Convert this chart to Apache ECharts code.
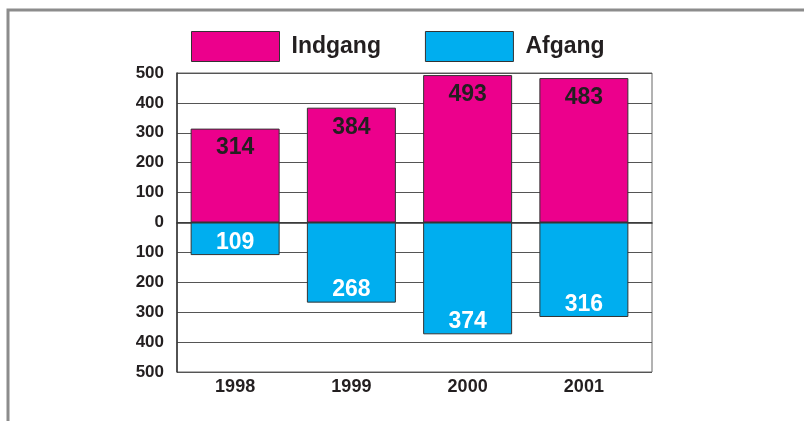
<!DOCTYPE html>
<html>
<head>
<meta charset="utf-8">
<script src="https://cdn.jsdelivr.net/npm/echarts@6/dist/echarts.min.js"></script>
<style>
  html, body { margin: 0; padding: 0; background: #fff; }
  #chart { width: 804px; height: 421px; }
</style>
</head>
<body>
<div id="chart"></div>
<script>
// data
const years = ['1998', '1999', '2000', '2001'];
const indgang = [314, 384, 493, 483];
const afgang = [109, 268, 374, 316];

const font = 'Liberation Sans, Arial, Helvetica, sans-serif';
const ink = '#231f20';

const chart = echarts.init(document.getElementById('chart'));

const option = {
  animation: false,
  textStyle: { fontFamily: font },
  graphic: [
    {
      // grey frame round the figure (top and left)
      type: 'polyline',
      shape: { points: [[8, 421], [8, 10], [804, 10]] },
      style: { stroke: '#8c8c8c', lineWidth: 3, fill: null }
    }
  ],
  legend: {
    left: 191,
    top: 31,
    padding: 0,
    itemWidth: 88,
    itemHeight: 30,
    itemGap: 44,
    icon: 'rect',
    itemStyle: { borderColor: '#333', borderWidth: 1 },
    textStyle: { fontFamily: font, fontSize: 23, fontWeight: 'bold', color: ink, padding: [0, 0, 0, 7] },
    data: ['Indgang', 'Afgang']
  },
  grid: [
    // frame grid: grid lines and axes
    { left: 177, right: 152, top: 73, bottom: 49, show: true, borderColor: '#666', borderWidth: 1 },
    // bar grid
    { left: 177, right: 162, top: 73, bottom: 49 }
  ],
  xAxis: [
    {
      gridIndex: 0, type: 'value', min: 0, max: 1,
      axisLine: { show: true, lineStyle: { color: '#333', width: 1.5 } },
      axisTick: { show: false }, axisLabel: { show: false }, splitLine: { show: false }
    },
    {
      gridIndex: 1, type: 'category', data: years,
      axisLine: { show: false }, axisTick: { show: false },
      axisLabel: { fontFamily: font, fontSize: 18, fontWeight: 'bold', color: ink, margin: 6 }
    }
  ],
  yAxis: [
    {
      gridIndex: 0, type: 'value', min: -500, max: 500, interval: 100,
      axisLine: { show: true, lineStyle: { color: '#333', width: 1.5 } },
      axisTick: { show: false },
      splitLine: { lineStyle: { color: '#555', width: 1 } },
      axisLabel: {
        fontFamily: font, fontSize: 17, fontWeight: 'bold', color: ink, margin: 13,
        formatter: v => String(Math.abs(v))
      }
    },
    {
      gridIndex: 1, type: 'value', min: -500, max: 500, interval: 100, show: false
    }
  ],
  series: [
    {
      name: 'Indgang', type: 'bar', xAxisIndex: 1, yAxisIndex: 1, stack: 'all',
      barWidth: 89,
      data: indgang,
      itemStyle: { color: '#ec008c', borderColor: '#333', borderWidth: 1 },
      label: {
        show: true, position: 'insideTop', distance: 8,
        fontFamily: font, fontSize: 23, fontWeight: 'bold', color: ink
      }
    },
    {
      name: 'Afgang', type: 'bar', xAxisIndex: 1, yAxisIndex: 1, stack: 'all',
      barWidth: 89,
      data: afgang.map(v => -v),
      itemStyle: { color: '#00aeef', borderColor: '#333', borderWidth: 1 },
      label: {
        show: true, position: 'insideBottom', distance: 1,
        fontFamily: font, fontSize: 23, fontWeight: 'bold', color: '#fff',
        formatter: p => String(Math.abs(p.value))
      }
    }
  ]
};

chart.setOption(option);
</script>
</body>
</html>
